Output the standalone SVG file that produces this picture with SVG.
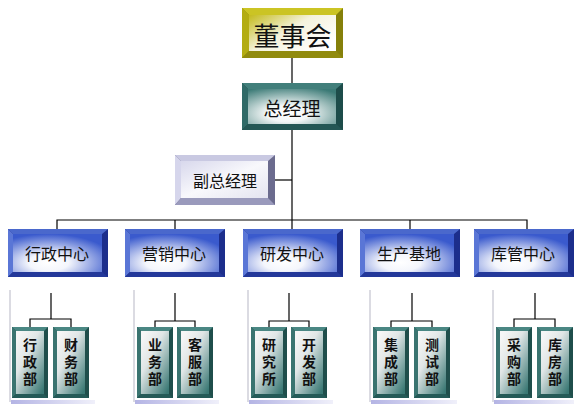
<svg xmlns="http://www.w3.org/2000/svg" xmlns:xlink="http://www.w3.org/1999/xlink" width="580" height="415" viewBox="0 0 580 415">
<style>
.t{font-family:"Noto Sans CJK SC","Noto Sans",sans-serif;fill:#111;text-anchor:middle;dominant-baseline:central}
.big{font-size:26px}
.mid{font-size:19px}
.ctr{font-size:16px}
.v{font-size:14px;font-weight:bold;writing-mode:vertical-rl;letter-spacing:3px}
.ln{stroke:#000;stroke-width:1.2;fill:none}
.frame{stroke:#cfcfd8;stroke-width:1.5;fill:none}
</style>
<defs>
<linearGradient id="gGold" x1="0" y1="0" x2="1" y2="0.7">
<stop offset="0" stop-color="#c4bb1c"/><stop offset="0.5" stop-color="#f4f2dc"/><stop offset="1" stop-color="#ffffff"/>
</linearGradient>
<radialGradient id="gTeal" cx="0.45" cy="0.7" r="0.8">
<stop offset="0" stop-color="#ffffff"/><stop offset="0.3" stop-color="#f2f6f6"/><stop offset="1" stop-color="#3b7a76"/>
</radialGradient>
<linearGradient id="gLav" x1="0" y1="0" x2="1" y2="1">
<stop offset="0" stop-color="#d8d8ec"/><stop offset="0.5" stop-color="#f8f8fc"/><stop offset="1" stop-color="#e4e4f0"/>
</linearGradient>
<radialGradient id="gBlue" cx="0.4" cy="0.75" r="0.75">
<stop offset="0" stop-color="#ffffff"/><stop offset="0.3" stop-color="#f4f6fc"/><stop offset="1" stop-color="#3a5acd"/>
</radialGradient>
<linearGradient id="gSmall" x1="0.1" y1="0.05" x2="0.9" y2="1">
<stop offset="0" stop-color="#f6f6f6"/><stop offset="0.35" stop-color="#e0e6e6"/><stop offset="1" stop-color="#3a7874"/>
</linearGradient>
<linearGradient id="gBar" x1="0" y1="0" x2="1" y2="0">
<stop offset="0" stop-color="#b4b4e4"/><stop offset="1" stop-color="#f0f0fa"/>
</linearGradient>
<g id="blueBox">
<rect width="100" height="48" fill="#1c2e8c"/>
<polygon points="0,0 100,0 94,5 5,5" fill="#4a68cc"/>
<polygon points="0,0 5,5 5,43 0,48" fill="#5a76d6"/>
<polygon points="0,48 100,48 94,43 5,43" fill="#23389a"/>
<rect x="5" y="5" width="89" height="38" fill="url(#gBlue)"/>
</g>
<g id="smallBox">
<rect width="36" height="71" fill="#1f4e4b"/>
<polygon points="0,0 36,0 32,4 4,4" fill="#4a8783"/>
<polygon points="0,0 4,4 4,67 0,71" fill="#3a7470"/>
<polygon points="0,71 36,71 32,67 4,67" fill="#245a57"/>
<rect x="4" y="4" width="28" height="63" fill="url(#gSmall)"/>
</g>
</defs>

<g id="connectors">
<line class="ln" x1="292" y1="58" x2="292" y2="83"/>
<line class="ln" x1="292" y1="130" x2="292" y2="229"/>
<line class="ln" x1="275" y1="180" x2="292" y2="180"/>
<polyline class="ln" points="57,229 57,220 527,220 527,229"/>
<line class="ln" x1="175" y1="220" x2="175" y2="229"/>
<line class="ln" x1="410" y1="220" x2="410" y2="229"/>
<line class="ln" x1="51" y1="293" x2="51" y2="319"/>
<polyline class="ln" points="30,327 30,319 71,319 71,327"/>
<line class="ln" x1="175" y1="293" x2="175" y2="321"/>
<polyline class="ln" points="155,327 155,321 195,321 195,327"/>
<line class="ln" x1="289" y1="293" x2="289" y2="321"/>
<polyline class="ln" points="269,327 269,321 309,321 309,327"/>
<line class="ln" x1="412" y1="293" x2="412" y2="321"/>
<polyline class="ln" points="391,327 391,321 432,321 432,327"/>
<line class="ln" x1="535" y1="293" x2="535" y2="319"/>
<polyline class="ln" points="514,327 514,319 555,319 555,327"/>
</g>

<g id="dongshihui">
<rect x="242" y="8" width="101" height="50" fill="#85800a"/>
<polygon points="242,8 343,8 336,15 249,15" fill="#cbc424"/>
<polygon points="242,8 249,15 249,51 242,58" fill="#b3ac12"/>
<polygon points="242,58 343,58 336,51 249,51" fill="#918b0e"/>
<rect x="249" y="15" width="87" height="36" fill="url(#gGold)"/>
<text class="t big" x="292.5" y="34">董事会</text>
</g>

<g id="zongjingli">
<rect x="242" y="83" width="101" height="47" fill="#1d4c4a"/>
<polygon points="242,83 343,83 336,89 248,89" fill="#427f7b"/>
<polygon points="242,83 248,89 248,124 242,130" fill="#2f6a67"/>
<polygon points="242,130 343,130 336,124 248,124" fill="#245755"/>
<rect x="248" y="89" width="88" height="35" fill="url(#gTeal)"/>
<text class="t mid" x="292" y="107">总经理</text>
</g>

<g id="fuzongjingli">
<rect x="175" y="155" width="100" height="50" fill="#6b6b8e"/>
<polygon points="175,155 275,155 268,161 181,161" fill="#c9c9e2"/>
<polygon points="175,155 181,161 181,198 175,205" fill="#d6d6ec"/>
<polygon points="175,205 275,205 268,198 181,198" fill="#9a9abc"/>
<rect x="181" y="161" width="87" height="37" fill="url(#gLav)"/>
<text class="t ctr" x="225" y="180">副总经理</text>
</g>

<g id="xingzheng">
<use xlink:href="#blueBox" x="8" y="229"/>
<text class="t ctr" x="57" y="253">行政中心</text>
</g>
<g id="yingxiao">
<use xlink:href="#blueBox" x="125" y="229"/>
<text class="t ctr" x="174" y="253">营销中心</text>
</g>
<g id="yanfa">
<use xlink:href="#blueBox" x="243" y="229"/>
<text class="t ctr" x="292" y="253">研发中心</text>
</g>
<g id="shengchan">
<use xlink:href="#blueBox" x="360" y="229"/>
<text class="t ctr" x="409" y="253">生产基地</text>
</g>
<g id="kuguan">
<use xlink:href="#blueBox" x="474" y="229"/>
<text class="t ctr" x="523" y="253">库管中心</text>
</g>

<g id="frames">
<line class="frame" x1="10" y1="290" x2="10" y2="402"/>
<rect x="11" y="400" width="84" height="4" fill="url(#gBar)"/>
<line class="frame" x1="134" y1="290" x2="134" y2="402"/>
<rect x="135" y="400" width="84" height="4" fill="url(#gBar)"/>
<line class="frame" x1="248" y1="290" x2="248" y2="402"/>
<rect x="249" y="400" width="84" height="4" fill="url(#gBar)"/>
<line class="frame" x1="370" y1="290" x2="370" y2="402"/>
<rect x="371" y="400" width="86" height="4" fill="url(#gBar)"/>
<line class="frame" x1="493" y1="290" x2="493" y2="402"/>
<rect x="494" y="400" width="80" height="4" fill="url(#gBar)"/>
</g>

<g id="xingzhengbu">
<use xlink:href="#smallBox" x="12" y="327"/>
<text class="t v" x="30" y="363">行政部</text>
</g>
<g id="caiwubu">
<use xlink:href="#smallBox" x="53" y="327"/>
<text class="t v" x="71" y="363">财务部</text>
</g>
<g id="yewubu">
<use xlink:href="#smallBox" x="137" y="327"/>
<text class="t v" x="155" y="363">业务部</text>
</g>
<g id="kefubu">
<use xlink:href="#smallBox" x="177" y="327"/>
<text class="t v" x="195" y="363">客服部</text>
</g>
<g id="yanjiusuo">
<use xlink:href="#smallBox" x="251" y="327"/>
<text class="t v" x="269" y="363">研究所</text>
</g>
<g id="kaifabu">
<use xlink:href="#smallBox" x="291" y="327"/>
<text class="t v" x="309" y="363">开发部</text>
</g>
<g id="jichengbu">
<use xlink:href="#smallBox" x="373" y="327"/>
<text class="t v" x="391" y="363">集成部</text>
</g>
<g id="ceshibu">
<use xlink:href="#smallBox" x="414" y="327"/>
<text class="t v" x="432" y="363">测试部</text>
</g>
<g id="caigoubu">
<use xlink:href="#smallBox" x="496" y="327"/>
<text class="t v" x="514" y="363">采购部</text>
</g>
<g id="kufangbu">
<use xlink:href="#smallBox" x="537" y="327"/>
<text class="t v" x="555" y="363">库房部</text>
</g>
</svg>
